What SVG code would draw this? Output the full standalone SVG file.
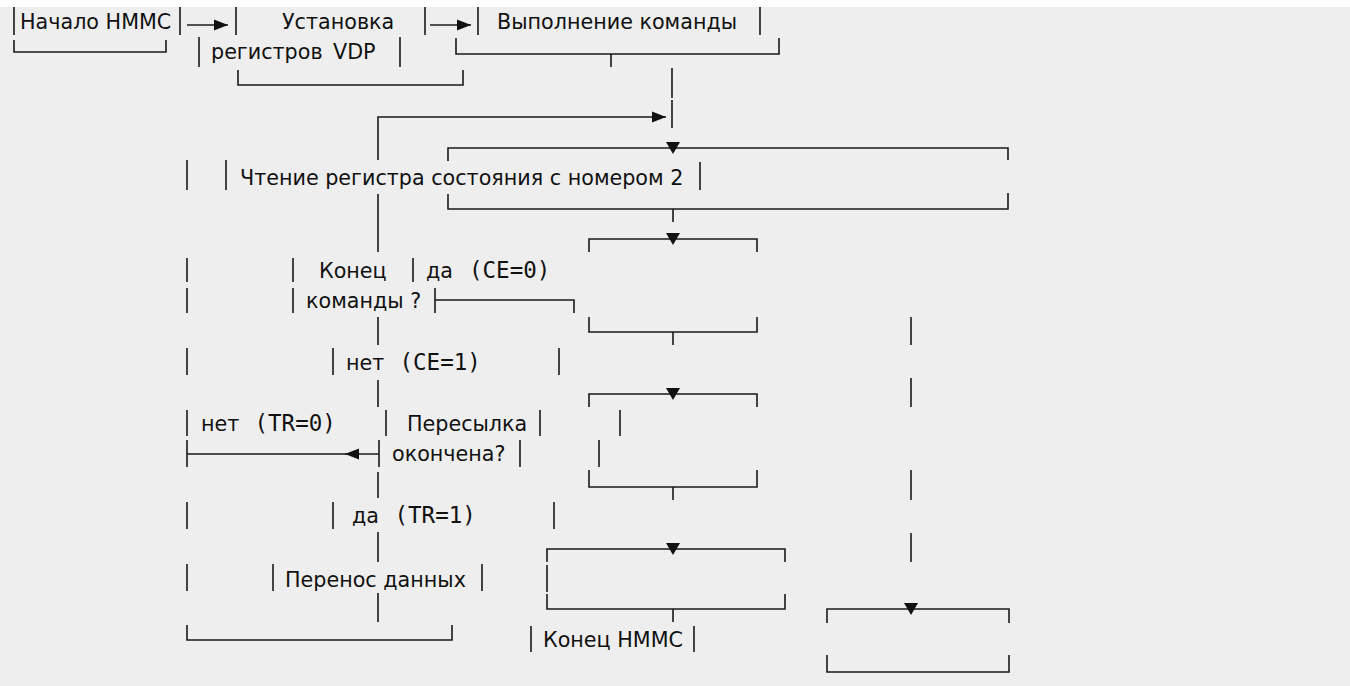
<svg xmlns="http://www.w3.org/2000/svg" width="1350" height="686" viewBox="0 0 1350 686">
<style>
.t{font-family:"DejaVu Sans","Noto Sans",sans-serif;font-size:20.7px;fill:#111}
.m{font-family:"DejaVu Sans Mono","Liberation Mono",monospace;font-size:22.5px;fill:#111}
.ln{fill:none;stroke:#1a1a1a;stroke-width:1.6}
.ah{fill:#111}
</style>
<defs>
<marker id="arr" markerUnits="userSpaceOnUse" markerWidth="16" markerHeight="14" refX="14" refY="6" orient="auto">
<path d="M0,0.5 L14,6 L0,11.5 Z" class="ah"/>
</marker>
<path id="tri" d="M-7,-6 L7,-6 L0,6 Z" class="ah"/>
</defs>
<rect x="0" y="0" width="1350" height="686" fill="#ffffff"/>
<rect x="0" y="7" width="1350" height="679" fill="#eeeeee"/>

<g id="node-start">
<path class="ln" d="M14,7 V35 M180,7 V35 M14,40 V52 H166 V40"/>
<text class="t" x="20" y="29">Начало НММС</text>
</g>

<g id="node-setregs">
<path class="ln" d="M236,7 V35 M425,7 V35 M199,37 V67 M400,37 V67 M238,70 V85 H463 V70"/>
<text class="t" x="282" y="29">Установка</text>
<text class="t" x="211" y="59">регистров<tspan x="333">VDP</tspan></text>
</g>

<g id="node-exec">
<path class="ln" d="M478,7 V35 M760,7 V35 M456,38 V54 H779 V38 M611,54 V67"/>
<text class="t" x="497" y="29">Выполнение команды</text>
</g>

<g id="node-read">
<path class="ln" d="M187,160 V190 M226,160 V190 M700,162 V190 M448,161 V148 H1008 V160 M448,194 V209 H1008 V193 M673,209 V222"/>
<use href="#tri" x="673" y="148"/>
<text class="t" x="240" y="185">Чтение регистра состояния с номером 2</text>
</g>

<g id="box-1">
<path class="ln" d="M589,252 V239 H757 V252 M589,317 V332 H757 V317 M673,332 V345"/>
<use href="#tri" x="673" y="239"/>
</g>

<g id="node-endcmd">
<path class="ln" d="M187,258 V282 M293,258 V282 M413,258 V282 M187,288 V313 M293,288 V313 M435,288 V313"/>
<text class="t" x="319" y="278">Конец</text>
<text class="t" x="306" y="308">команды ?</text>
</g>

<g id="box-2">
<path class="ln" d="M589,407 V394 H757 V407 M589,470 V487 H757 V470 M673,487 V500"/>
<use href="#tri" x="673" y="394"/>
</g>

<g id="node-transfer">
<path class="ln" d="M386,410 V436 M540,410 V436 M620,410 V436 M379,440 V467 M520,440 V467 M599,440 V467"/>
<text class="t" x="407" y="431">Пересылка</text>
<text class="t" x="392" y="461">окончена?</text>
</g>

<g id="box-3">
<path class="ln" d="M547,562 V549 H785 V562 M547,565 V592 M547,594 V609 H785 V594 M673,609 V622"/>
<use href="#tri" x="673" y="549"/>
</g>

<g id="node-move">
<path class="ln" d="M187,564 V591 M273,564 V591 M482,564 V591"/>
<text class="t" x="285" y="587">Перенос данных</text>
</g>

<g id="node-end">
<path class="ln" d="M531,626 V652 M694,626 V652"/>
<text class="t" x="543" y="647">Конец НММС</text>
</g>

<g id="box-4">
<path class="ln" d="M827,623 V609 H1009 V623 M827,655 V672 H1009 V655"/>
<use href="#tri" x="911" y="609"/>
</g>

<g id="connectors">
<path class="ln" d="M187,25 H228" marker-end="url(#arr)"/>
<path class="ln" d="M430,25 H471" marker-end="url(#arr)"/>
<path class="ln" d="M672,68 V98 M672,100 V128"/>
<path class="ln" d="M378,160 V117 H666" marker-end="url(#arr)"/>
<path class="ln" d="M378,194 V252 M378,317 V345 M378,380 V407 M378,472 V498 M378,532 V562 M378,593 V622"/>
<path class="ln" d="M435,300 H574 V313"/>
<path class="ln" d="M911,317 V345 M911,378 V407 M911,470 V500 M911,533 V562"/>
<path class="ln" d="M187,348 V375 M333,348 V375 M559,348 V375"/>
<path class="ln" d="M187,410 V436 M187,440 V467 M187,454 H346"/>
<path class="ln" d="M379,454 H345" marker-end="url(#arr)"/>
<path class="ln" d="M187,502 V529 M333,502 V529 M554,502 V529"/>
<path class="ln" d="M187,625 V640 H452 V625"/>
<text class="t" x="426" y="278">да<tspan class="m" x="469">(CE=0)</tspan></text>
<text class="t" x="346" y="370">нет<tspan class="m" x="399.5">(CE=1)</tspan></text>
<text class="t" x="201" y="431">нет<tspan class="m" x="254.5">(TR=0)</tspan></text>
<text class="t" x="352" y="523">да<tspan class="m" x="394.5">(TR=1)</tspan></text>
</g>
</svg>
